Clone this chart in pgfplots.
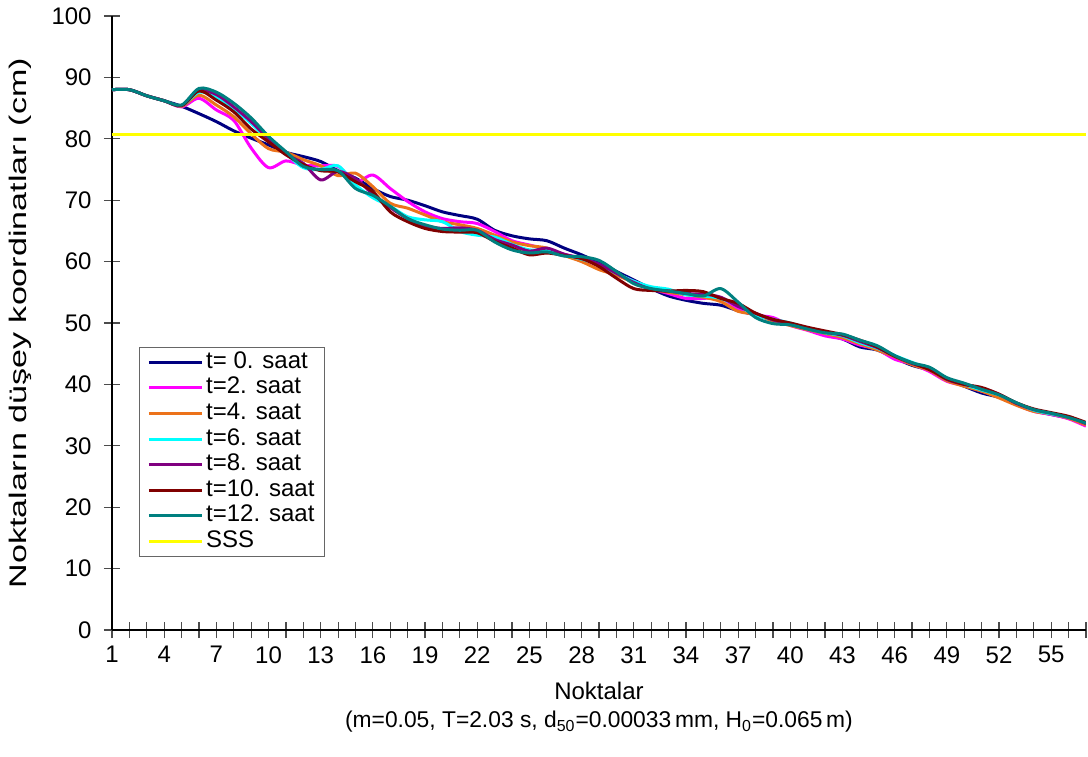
\documentclass[12pt,border=0pt]{standalone}
\usepackage{pgfplots}
\pgfplotsset{compat=1.18}
\usepackage{pgfplotstable}
\usepackage{fontspec}
\setmainfont{Liberation Sans}
\definecolor{cNavy}{RGB}{0,0,128}
\definecolor{cMag}{RGB}{255,0,255}
\definecolor{cOra}{RGB}{236,114,26}
\definecolor{cCya}{RGB}{0,255,255}
\definecolor{cPur}{RGB}{128,0,128}
\definecolor{cRed}{RGB}{128,0,0}
\definecolor{cTea}{RGB}{0,128,128}
\definecolor{cYel}{RGB}{255,255,0}
\pgfplotstableread{
x t0 t2 t4 t6 t8 t10 t12
1 88 88 88 88 88 88 88
2 88 88 88 88 88 88 88
3 87 87 87 87 87 87 87
4 86.2 86.2 86.2 86.2 86.2 86.2 86.2
5 85.3 85.2 85.3 85.4 85.4 85.4 85.5
6 84.1 86.6 87.1 87.6 87.9 87.8 88.2
7 82.8 84.7 85.5 86.8 87.2 86.3 87.6
8 81.3 83.0 83.6 84.9 85.2 84.4 85.8
9 80.1 78.5 80.8 82.5 82.8 81.6 83.4
10 79.0 75.3 78.4 79.8 80.0 79.5 80.4
11 77.8 76.4 77.8 77.6 77.5 77.4 77.9
12 77.1 75.7 76.6 75.3 76.0 75.8 75.5
13 76.3 75.6 75.6 75.0 73.3 74.8 75.0
14 74.8 75.5 74.0 75.6 74.7 74.6 74.8
15 73.6 73.0 74.4 72.5 73.5 73.0 71.9
16 71.9 74.1 72.2 70.4 71.0 71.4 70.8
17 70.6 71.9 69.5 69.0 68.8 68.1 69.0
18 70.0 69.8 68.7 67.3 67.0 66.5 67.0
19 69.1 68.1 67.6 66.8 65.8 65.4 66.0
20 68.1 67.0 66.5 66.5 65.4 64.9 65.3
21 67.5 66.5 66.0 64.9 65.5 64.8 65.1
22 66.9 66.2 65.4 64.3 65.1 64.7 65.1
23 65.1 64.9 64.3 64.0 63.6 63.3 63.2
24 64.2 63.4 63.2 62.8 62.7 62.2 61.9
25 63.7 62.7 62.6 61.9 61.7 61.1 61.4
26 63.4 62.0 62.2 61.9 62.2 61.4 61.6
27 62.2 61.2 61.0 61.1 61.2 61.0 60.9
28 61.1 60.5 60.0 60.4 60.5 60.5 60.8
29 59.8 59.3 58.7 59.5 59.6 59.2 60.2
30 58.4 58.0 57.8 58.1 58.1 57.3 58.4
31 57.0 56.8 56.6 56.8 56.6 55.6 56.4
32 55.6 55.6 55.6 55.9 55.5 55.3 55.6
33 54.4 54.8 55.0 55.5 55.2 55.2 55.2
34 53.7 54.0 54.6 54.6 54.8 55.3 54.8
35 53.2 54.0 54.2 54.4 54.7 55.1 54.4
36 52.9 54.1 53.5 54.0 54.2 54.0 55.6
37 52.0 52.3 51.9 52.8 52.7 53.2 53.4
38 51.3 51.3 51.4 51.3 51.6 51.6 50.9
39 50.5 50.9 50.3 50.6 50.5 50.6 49.9
40 49.7 49.6 49.6 50.0 49.8 50.0 49.7
41 49.0 48.8 48.9 49.1 49.1 49.3 49.0
42 48.1 47.9 48.3 48.4 48.5 48.7 48.4
43 47.4 47.4 47.6 47.9 48.0 48.1 48.2
44 46.1 46.4 46.6 46.8 47.0 47.2 47.2
45 45.6 45.7 45.6 45.9 46.0 46.1 46.3
46 44.3 44.1 44.5 44.7 44.6 44.6 44.7
47 43.1 43.3 43.2 43.6 43.4 43.5 43.5
48 42.3 42.1 42.3 42.5 42.5 42.4 42.8
49 40.8 40.5 40.6 41.0 40.8 40.9 41.1
50 39.7 39.8 39.7 40.0 40.0 40.0 40.2
51 38.6 38.9 38.9 39.1 39.4 39.5 39.2
52 37.9 38.0 37.8 38.3 38.4 38.4 38.3
53 36.8 36.7 36.6 37.0 36.9 37.0 37.0
54 35.7 35.6 35.6 35.8 35.9 36.0 35.9
55 35.1 35.1 35.2 35.2 35.3 35.4 35.3
56 34.5 34.4 34.5 34.7 34.7 34.8 34.6
57 33.6 33.2 33.4 33.7 33.6 33.8 33.7
}\datatable
\pgfplotstableread{
x y
1 80.7
57 80.7
}\ssstable
\begin{document}
\begin{tikzpicture}
\useasboundingbox (-56pt,-63pt) rectangle (488pt,315pt);
\begin{axis}[
  scale only axis,
  width=487pt, height=307pt,
  xmin=1, xmax=57, ymin=0, ymax=100,
  axis lines*=left,
  axis line style={black, line width=0.8pt},
  xtick={1,4,...,55},
  minor xtick={1,...,57},
  ytick={0,10,...,100},
  tick align=center,
  major tick length=8pt,
  minor tick length=8pt,
  every tick/.style={black!70, line width=0.6pt},
  /pgf/number format/assume math mode=true,
  yticklabel style={xshift=-2pt},
  ylabel={\scalebox{1.42}[1]{Noktaların düşey koordinatları (cm)}},
  ylabel style={at={(axis description cs:-0.0945,0.5)}, anchor=center},
  xlabel={Noktalar\\{\fontsize{11.4}{14}\selectfont(m=0.05, T=2.03 s, d\textsubscript{50}=0.00033\,mm, H\textsubscript{0}=0.065\,m)}},
  xlabel style={at={(axis description cs:0.5,0)}, anchor=north, yshift=-22pt,
    align=center, font=\fontsize{12}{14}\selectfont},
  legend cell align=left,
  legend style={at={(axis description cs:0.0277,0.461)}, anchor=north west,
    draw=black!60, line width=0.6pt, inner xsep=3.75pt, inner ysep=1pt,
    row sep=0pt,
    nodes={inner xsep=1.25pt, inner ysep=0pt, text height=9.4pt, text depth=3.4pt}},
  legend image code/.code={\draw[#1] (0pt,0pt) -- (26.5pt,0pt);},
  every axis plot/.append style={line width=1.5pt, smooth, tension=0.5},
]
\addplot[cNavy] table[x=x,y=t0]{\datatable};
\addlegendentry{t= 0. saat}
\addplot[cMag] table[x=x,y=t2]{\datatable};
\addlegendentry{t=2. saat}
\addplot[cOra] table[x=x,y=t4]{\datatable};
\addlegendentry{t=4. saat}
\addplot[cCya] table[x=x,y=t6]{\datatable};
\addlegendentry{t=6. saat}
\addplot[cPur] table[x=x,y=t8]{\datatable};
\addlegendentry{t=8. saat}
\addplot[cRed] table[x=x,y=t10]{\datatable};
\addlegendentry{t=10. saat}
\addplot[cTea] table[x=x,y=t12]{\datatable};
\addlegendentry{t=12. saat}
\addplot[cYel, line width=1.8pt, sharp plot] table[x=x,y=y]{\ssstable};
\addlegendentry{SSS}
\end{axis}
\end{tikzpicture}
\end{document}
